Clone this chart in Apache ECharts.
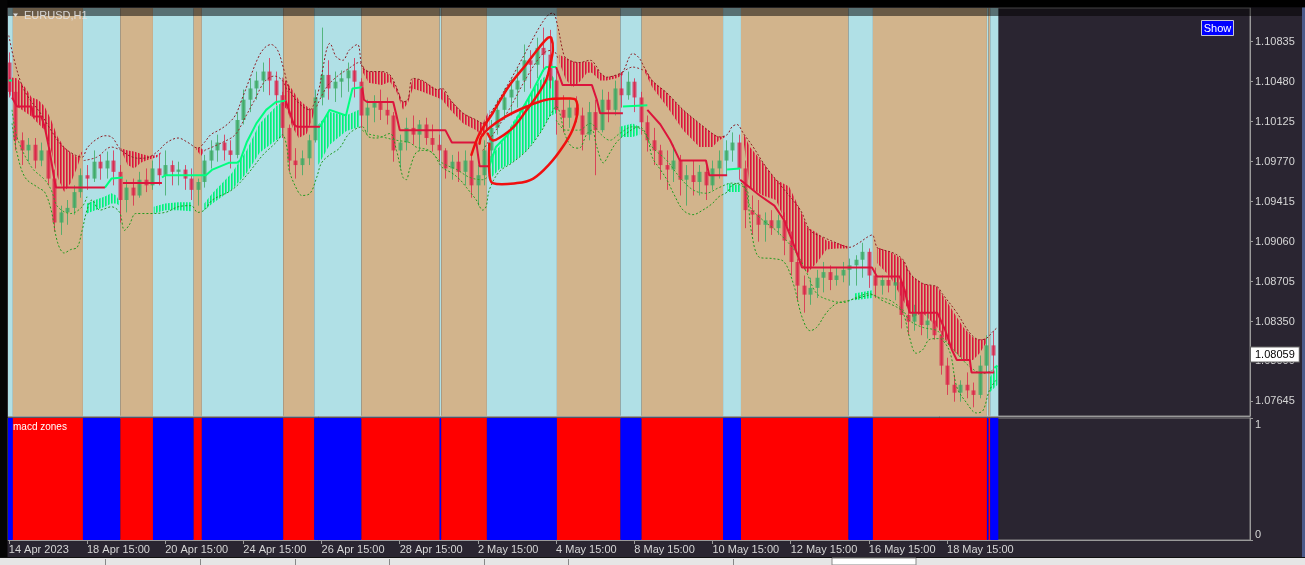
<!DOCTYPE html>
<html><head><meta charset="utf-8">
<script src="https://cdn.jsdelivr.net/npm/echarts@6/dist/echarts.min.js"></script>
<style>html,body{margin:0;padding:0;background:#000;overflow:hidden}#c{width:1305px;height:565px}</style>
</head><body><div id="c"></div>
<script>
// ---------------- DATA (EURUSD H1, bar index = hours from 14 Apr 2023 15:00) ----------------
const tickBars = [0,48,96,144,192,240,288,336,384,432,480,528,576];
const tickLabels = ['14 Apr 2023','18 Apr 15:00','20 Apr 15:00','24 Apr 15:00','26 Apr 15:00','28 Apr 15:00','2 May 15:00','4 May 15:00','8 May 15:00','10 May 15:00','12 May 15:00','16 May 15:00','18 May 15:00'];
const priceTicks = [1.10835,1.10480,1.10125,1.09770,1.09415,1.09060,1.08705,1.08350,1.08000,1.07645];
const subTicks = [0,1];
const lastPrice = 1.08059;
const barsPerCandle = 4;

const candleOpen = [
1.1065,1.1039,1.0996,1.0987,1.0992,1.0978,1.0987,1.0962,
1.0923,1.0932,1.0936,1.0950,1.0965,1.0962,1.0977,1.0971,
1.0978,1.0968,1.0943,1.0954,1.0947,1.0961,1.0956,1.0971,
1.0965,1.0974,1.0968,1.0970,1.0962,1.0952,1.0959,1.0978,
1.0987,1.0994,1.0987,1.0983,1.1014,1.1032,1.1042,1.1049,
1.1057,1.1049,1.1036,1.1007,1.0978,1.0974,1.0980,1.0996,
1.1034,1.1054,1.1042,1.1048,1.1051,1.1058,1.1048,1.1018,
1.1025,1.1030,1.1023,1.1018,1.0987,1.0994,1.1007,1.1001,
1.1010,1.0998,1.0992,1.0987,1.0971,1.0977,1.0968,1.0978,
1.0956,1.0965,1.0987,1.1007,1.1023,1.1034,1.1041,1.1049,
1.1067,1.1063,1.1078,1.1072,1.1049,1.1023,1.1016,1.1025,
1.1018,1.1001,1.1021,1.1005,1.1032,1.1023,1.1042,1.1036,
1.1048,1.1034,1.1012,1.0996,1.0987,1.0974,1.0970,1.0978,
1.0961,1.0965,1.0959,1.0968,1.0956,1.0971,1.0978,1.0987,
1.0994,1.0971,1.0934,1.0930,1.0921,1.0925,1.0918,1.0925,
1.0907,1.0888,1.0867,1.0859,1.0865,1.0874,1.0879,1.0872,
1.0876,1.0881,1.0885,1.0890,1.0897,1.0876,1.0867,1.0872,
1.0867,1.0870,1.0841,1.0835,1.0843,1.0832,1.0836,1.0823,
1.0796,1.0779,1.0772,1.0779,1.0774,1.0770,1.0796,1.0814];
const candleHigh = [
1.1074,1.1042,1.1003,1.0998,1.0998,1.0994,1.0989,1.0970,
1.0938,1.0943,1.0956,1.0971,1.0974,1.0987,1.0983,1.0986,
1.0987,1.0974,1.0961,1.0962,1.0968,1.0971,1.0978,1.0983,
1.0987,1.0978,1.0977,1.0974,1.0971,1.0962,1.0983,1.0996,
1.1001,1.1001,1.0996,1.1021,1.1041,1.1051,1.1057,1.1065,
1.1069,1.1057,1.1039,1.1010,1.0989,1.0987,1.1001,1.1041,
1.1096,1.1067,1.1057,1.1058,1.1065,1.1069,1.1051,1.1032,
1.1036,1.1041,1.1034,1.1021,1.1001,1.1016,1.1018,1.1014,
1.1016,1.1010,1.1001,1.0989,1.0983,1.0986,1.0987,1.0983,
1.0974,1.0996,1.1014,1.1032,1.1042,1.1051,1.1060,1.1081,
1.1076,1.1087,1.1096,1.1094,1.1058,1.1036,1.1032,1.1035,
1.1025,1.1030,1.1032,1.1041,1.1039,1.1049,1.1054,1.1057,
1.1051,1.1039,1.1018,1.1007,1.0992,1.0987,1.0992,1.0983,
1.0974,1.0978,1.0974,1.0977,1.0978,1.0987,1.0996,1.1003,
1.1001,1.0978,1.0947,1.0943,1.0932,1.0934,1.0930,1.0932,
1.0915,1.0891,1.0876,1.0874,1.0881,1.0888,1.0885,1.0883,
1.0888,1.0891,1.0894,1.0905,1.0900,1.0883,1.0876,1.0879,
1.0874,1.0872,1.0854,1.0850,1.0850,1.0843,1.0845,1.0827,
1.0803,1.0788,1.0783,1.0790,1.0781,1.0805,1.0823,1.0827];
const candleLow = [
1.1034,1.0987,1.0974,1.0977,1.0971,1.0973,1.0956,1.0915,
1.0912,1.0921,1.0930,1.0945,1.0952,1.0959,1.0961,1.0962,
1.0956,1.0923,1.0932,1.0938,1.0945,1.0950,1.0952,1.0956,
1.0947,1.0956,1.0956,1.0952,1.0943,1.0938,1.0954,1.0971,
1.0977,1.0978,1.0971,1.0980,1.1010,1.1021,1.1032,1.1039,
1.1036,1.1027,1.0998,1.0968,1.0962,1.0965,1.0974,1.0994,
1.1027,1.1032,1.1030,1.1034,1.1039,1.1034,1.1007,1.1003,
1.1012,1.1014,1.1010,1.0977,1.0971,1.0987,1.0992,1.0987,
1.0992,1.0986,1.0977,1.0962,1.0961,1.0959,1.0956,1.0945,
1.0938,1.0956,1.0980,1.1001,1.1014,1.1018,1.1025,1.1039,
1.1042,1.1051,1.1057,1.1042,1.1001,1.1003,1.1007,1.1012,
1.0987,1.0996,1.0965,1.1003,1.1012,1.1018,1.1025,1.1032,
1.1021,1.1001,1.0986,1.0974,1.0961,1.0952,1.0959,1.0947,
1.0938,1.0947,1.0947,1.0943,1.0952,1.0962,1.0965,1.0977,
1.0961,1.0918,1.0912,1.0906,1.0906,1.0912,1.0912,1.0894,
1.0876,1.0854,1.0843,1.0850,1.0856,1.0861,1.0863,1.0867,
1.0870,1.0867,1.0867,1.0874,1.0865,1.0856,1.0859,1.0861,
1.0854,1.0829,1.0823,1.0827,1.0823,1.0820,1.0819,1.0788,
1.0770,1.0764,1.0764,1.0767,1.0759,1.0767,1.0790,1.0790];
const candleClose = [
1.1039,1.0996,1.0987,1.0992,1.0978,1.0987,1.0962,1.0923,
1.0932,1.0936,1.0950,1.0965,1.0962,1.0977,1.0971,1.0978,
1.0968,1.0943,1.0954,1.0947,1.0961,1.0956,1.0971,1.0965,
1.0974,1.0968,1.0970,1.0962,1.0952,1.0959,1.0978,1.0987,
1.0994,1.0987,1.0983,1.1014,1.1032,1.1042,1.1049,1.1057,
1.1049,1.1036,1.1007,1.0978,1.0974,1.0980,1.0996,1.1034,
1.1054,1.1042,1.1048,1.1051,1.1058,1.1048,1.1018,1.1025,
1.1030,1.1023,1.1018,1.0987,1.0994,1.1007,1.1001,1.1010,
1.0998,1.0992,1.0987,1.0971,1.0977,1.0968,1.0978,1.0956,
1.0965,1.0987,1.1007,1.1023,1.1034,1.1041,1.1049,1.1067,
1.1063,1.1078,1.1072,1.1049,1.1023,1.1016,1.1025,1.1018,
1.1001,1.1021,1.1005,1.1032,1.1023,1.1042,1.1036,1.1048,
1.1034,1.1012,1.0996,1.0987,1.0974,1.0970,1.0978,1.0961,
1.0965,1.0959,1.0968,1.0956,1.0971,1.0978,1.0987,1.0994,
1.0971,1.0934,1.0930,1.0921,1.0925,1.0918,1.0925,1.0907,
1.0888,1.0867,1.0859,1.0865,1.0874,1.0879,1.0872,1.0876,
1.0881,1.0885,1.0890,1.0897,1.0876,1.0867,1.0872,1.0867,
1.0870,1.0841,1.0835,1.0843,1.0832,1.0836,1.0823,1.0796,
1.0779,1.0772,1.0779,1.0774,1.0770,1.0796,1.0814,1.0805];

// trend zones (bar start, bar end, 1 = up/blue, 0 = down/red)
const zoneStart = [0,3,46,69,89,114,119,169,188,217,265,266,294,337,376,389,439,450,516,531,601,602,603];
const zoneEnd   = [3,46,69,89,114,119,169,188,217,265,266,294,337,376,389,439,450,516,531,601,602,603,608];
const zoneUp    = [1,0,1,0,1,0,1,0,1,0,1,0,1,0,1,0,1,0,1,0,1,0,1];

// stepped trend line (red part / green part), [bar, price]
const redStep = [[2,1.1034],[5,1.1026],[14,1.1026],[15,1.1017],[20,1.1017],[22,1.1008],[25,1.0987],[28,1.0961],[29,1.0954],[59,1.0954],null,
[70,1.0958],[94,1.0958],null,
[170,1.1031],[175,1.1010],[177,1.1008],[191,1.1008],null,
[217,1.1043],[218,1.1032],[220,1.1030],[236,1.1030],[238,1.1018],[240,1.1005],[268,1.1005],[272,1.0994],[287,1.0994],[289,1.0973],[295,1.0973],null,
[336,1.1061],[340,1.1045],[358,1.1045],[361,1.1032],[363,1.1020],[377,1.1020],null,
[392,1.1023],[400,1.1010],[406,1.0996],[412,1.0978],[428,1.0978],[430,1.0965],[441,1.0965],null,
[449,1.0961],[461,1.0947],[470,1.0938],[476,1.0925],[482,1.0903],[487,1.0883],[530,1.0883],[533,1.0875],[547,1.0875],[550,1.0863],[553,1.0843],[570,1.0843],[575,1.0827],[579,1.0810],[582,1.0801],[590,1.0801],[591,1.0790],[605,1.0790]];
const greenStep = [[0,1.1049],[2,1.1049],null,
[59,1.0954],[63,1.0962],[70,1.0963],null,
[94,1.0963],[96,1.0965],[121,1.0965],[125,1.0970],[135,1.0976],[140,1.0976],[142,1.0978],[146,1.0994],[152,1.1011],[158,1.1023],[164,1.1030],[170,1.1031],null,
[191,1.1008],[197,1.1023],[207,1.1018],[211,1.1042],[217,1.1043],null,
[295,1.0973],[299,1.0990],[307,1.1002],[315,1.1023],[322,1.1041],[328,1.1058],[330,1.1061],[336,1.1061],null,
[377,1.1026],[392,1.1027],null,
[441,1.0970],[449,1.0971],null,
[605,1.0794],[607,1.0796]];

// dotted envelope lines, [bar, price]
const upperBand = [[0,1.1089],[3,1.1069],[8,1.1045],[13,1.1032],[19,1.1021],[25,1.1007],[31,1.0994],[37,1.0986],[45,1.0981],[48,1.0989],[53,1.0996],[59,1.1000],[63,1.0999],[68,1.0989],[73,1.0983],[80,1.0980],[86,1.0981],[92,1.0987],[97,1.0994],[104,1.0998],[110,1.0994],[116,1.0989],[120,1.0994],[124,1.1001],[129,1.1005],[134,1.1010],[139,1.1018],[143,1.1032],[148,1.1051],[153,1.1069],[157,1.1078],[161,1.1081],[165,1.1076],[169,1.1058],[172,1.1042],[178,1.1029],[185,1.1023],[187,1.1027],[190,1.1039],[193,1.1061],[195,1.1076],[197,1.1082],[201,1.1070],[205,1.1067],[209,1.1076],[214,1.1081],[217,1.1061],[221,1.1057],[229,1.1057],[234,1.1054],[238,1.1043],[242,1.1030],[245,1.1032],[248,1.1051],[254,1.1049],[263,1.1041],[266,1.1042],[271,1.1032],[279,1.1020],[287,1.1014],[291,1.1011],[297,1.1023],[307,1.1047],[318,1.1076],[326,1.1097],[331,1.1107],[334,1.1109],[337,1.1097],[340,1.1076],[342,1.1069],[350,1.1065],[357,1.1067],[361,1.1061],[363,1.1056],[367,1.1052],[373,1.1054],[377,1.1057],[381,1.1070],[383,1.1073],[387,1.1069],[390,1.1061],[395,1.1049],[404,1.1038],[414,1.1023],[424,1.1011],[432,1.1002],[436,1.0999],[441,1.1001],[444,1.1008],[447,1.1010],[451,1.1002],[457,1.0990],[465,1.0972],[475,1.0954],[486,1.0934],[492,1.0916],[500,1.0910],[508,1.0905],[516,1.0901],[522,1.0905],[527,1.0910],[530,1.0912],[533,1.0901],[536,1.0899],[543,1.0896],[549,1.0890],[553,1.0878],[561,1.0869],[570,1.0866],[573,1.0860],[582,1.0843],[590,1.0825],[596,1.0819],[600,1.0820],[604,1.0826],[607,1.0830]];
const innerUpper = [[46,1.0978],[54,1.0981],[63,1.0990],[69,1.0987],null,
[120,1.0987],[131,1.0994],[139,1.1001],[145,1.1016],[151,1.1032],[157,1.1048],[163,1.1053],[168,1.1049],[171,1.1039],null,
[189,1.1026],[195,1.1043],[201,1.1052],[209,1.1060],[215,1.1065],[218,1.1060],null,
[291,1.0987],[295,1.0996],[307,1.1023],[318,1.1052],[328,1.1073],[334,1.1076],[337,1.1069],null,
[375,1.1054],[383,1.1061],[390,1.1058]];
const lowerBand = [[2,1.1011],[5,1.0985],[10,1.0963],[18,1.0954],[22,1.0950],[26,1.0934],[30,1.0905],[34,1.0896],[38,1.0899],[42,1.0901],[45,1.0916],[48,1.0934],[51,1.0943],[56,1.0934],[63,1.0937],[68,1.0932],[71,1.0916],[74,1.0921],[78,1.0931],[86,1.0931],[96,1.0932],[104,1.0937],[112,1.0938],[116,1.0932],[120,1.0934],[125,1.0943],[137,1.0952],[146,1.0965],[156,1.0983],[164,1.0994],[168,1.1001],[171,1.0987],[172,1.0970],[177,1.0952],[180,1.0947],[185,1.0949],[189,1.0963],[192,1.0976],[197,1.0983],[203,1.0989],[209,1.1002],[217,1.1008],[221,1.0999],[226,1.0998],[234,1.1002],[238,1.0987],[242,1.0963],[244,1.0961],[246,1.0970],[250,1.0985],[254,1.0987],[260,1.0985],[266,1.0972],[272,1.0967],[277,1.0961],[281,1.0954],[287,1.0943],[291,1.0934],[293,1.0937],[295,1.0952],[301,1.0968],[309,1.0976],[318,1.0987],[326,1.1002],[332,1.1017],[336,1.1026],[342,1.0999],[346,1.0990],[350,1.0989],[355,1.1002],[358,1.1005],[361,1.0990],[365,1.0976],[369,1.0985],[373,1.0994],[379,1.1002],[387,1.1008],[392,1.0999],[395,1.0981],[400,1.0970],[404,1.0961],[408,1.0949],[414,1.0934],[420,1.0930],[426,1.0934],[432,1.0940],[436,1.0946],[441,1.0950],[444,1.0956],[449,1.0958],[453,1.0949],[456,1.0914],[461,1.0892],[469,1.0891],[476,1.0888],[482,1.0867],[487,1.0839],[492,1.0827],[496,1.0830],[502,1.0843],[508,1.0851],[516,1.0854],[524,1.0857],[530,1.0859],[536,1.0854],[545,1.0848],[549,1.0843],[553,1.0821],[557,1.0807],[561,1.0810],[565,1.0819],[570,1.0820],[573,1.0819],[578,1.0807],[582,1.0777],[588,1.0763],[594,1.0754],[598,1.0756],[602,1.0774],[606,1.0783]];
const innerLower = [[2,1.1023],[5,1.0999],[14,1.0972],[22,1.0961],[26,1.0952],[30,1.0937],[38,1.0931],[45,1.0937],[48,1.0946],null,
[217,1.1005],[220,1.1002],[229,1.0999],[238,1.0996],[246,1.0994],[250,1.0990],[258,1.0987],[266,1.0976],[275,1.0970],[283,1.0963],[291,1.0961],[295,1.0965],null,
[336,1.1014],[342,1.1005],[350,1.1005],[357,1.1011],[363,1.1002],[369,1.0996],[375,1.1002],[383,1.1008],[389,1.1005],[395,1.0990],[404,1.0978],[412,1.0963],[420,1.0952],[428,1.0949],[436,1.0954],[444,1.0958],[453,1.0952],[455,1.0937],[463,1.0925],[471,1.0916],[481,1.0901],[486,1.0890],[490,1.0878],[496,1.0860],[504,1.0854],[512,1.0852],[521,1.0857],[528,1.0860],[533,1.0857],[541,1.0854],[549,1.0845],[553,1.0836],[561,1.0830],[570,1.0827],[573,1.0821],[582,1.0807],[590,1.0795],[598,1.0789],[604,1.0792]];

// histogram bands between two averages: [bar, upper, lower]
const redHatch = [
 [[0,1.1052,1.1038],[5,1.1051,1.1026],[10,1.1043,1.1021],[14,1.1034,1.1017],[18,1.1032,1.1011],[22,1.1026,1.1005],[26,1.1014,1.0987],[30,1.0999,1.0963],[34,1.0990,1.0950],[38,1.0985,1.0958],[42,1.0981,1.0972],[45,1.0986,1.0985]],
 [[69,1.0989,1.0987],[73,1.0987,1.0974],[77,1.0986,1.0971],[81,1.0984,1.0976],[86,1.0982,1.0979],[91,1.0983,1.0981],[94,1.0986,1.0985]],
 [[115,1.0990,1.0988],[118,1.0989,1.0982],[120,1.0987,1.0986]],
 [[168,1.1052,1.1027],[171,1.1047,1.1023],[174,1.1041,1.1008],[178,1.1032,1.0998],[183,1.1026,1.1002],[186,1.1023,1.1014],[188,1.1026,1.1023]],
 [[217,1.1061,1.1057],[221,1.1057,1.1047],[229,1.1057,1.1045],[234,1.1054,1.1048],[238,1.1043,1.1039],[242,1.1030,1.1023],[245,1.1032,1.1029],[248,1.1051,1.1042],[254,1.1049,1.1039],[263,1.1041,1.1034],[266,1.1042,1.1032],[271,1.1032,1.1023],[279,1.1020,1.1011],[287,1.1014,1.1005],[291,1.1011,1.0999],[295,1.1023,1.1008]],
 [[338,1.1072,1.1065],[342,1.1069,1.1050],[346,1.1066,1.1043],[350,1.1065,1.1047],[355,1.1066,1.1056],[358,1.1065,1.1056],[363,1.1056,1.1049],[367,1.1052,1.1049],[373,1.1054,1.1051],[377,1.1057,1.1054]],
 [[390,1.1061,1.1058],[395,1.1049,1.1043],[404,1.1038,1.1026],[414,1.1023,1.1005],[424,1.1011,1.0990],[432,1.1002,1.0990],[436,1.0999,1.0996],[440,1.1000,1.0999]],
 [[451,1.1002,1.0996],[455,1.0990,1.0954],[463,1.0976,1.0947],[471,1.0961,1.0943],[479,1.0955,1.0916],[486,1.0934,1.0887],[490,1.0919,1.0878],[496,1.0914,1.0887],[502,1.0907,1.0899],[508,1.0905,1.0900],[515,1.0902,1.0900]],
 [[533,1.0901,1.0887],[541,1.0897,1.0875],[549,1.0890,1.0854],[555,1.0875,1.0839],[561,1.0869,1.0843],[570,1.0866,1.0830],[578,1.0848,1.0812],[586,1.0830,1.0801],[592,1.0821,1.0801],[596,1.0819,1.0807],[600,1.0820,1.0816]]
];
const greenHatch = [
 [[48,1.0940,1.0931],[53,1.0943,1.0934],[59,1.0946,1.0937],[63,1.0949,1.0940],[66,1.0947,1.0940],[68,1.0941,1.0938]],
 [[89,1.0937,1.0931],[96,1.0940,1.0934],[104,1.0941,1.0934],[112,1.0941,1.0933]],
 [[120,1.0940,1.0934],[125,1.0949,1.0940],[137,1.0967,1.0952],[146,1.0987,1.0967],[154,1.1011,1.0985],[164,1.1026,1.0996],[168,1.1030,1.0999]],
 [[190,1.1010,1.0974],[197,1.1021,1.0992],[207,1.1018,1.1004],[215,1.1023,1.1008]],
 [[295,1.0981,1.0961],[301,1.0990,1.0970],[309,1.1011,1.0976],[318,1.1032,1.0987],[326,1.1049,1.1002],[332,1.1056,1.1017],[336,1.1049,1.1020]],
 [[375,1.1008,1.0999],[383,1.1011,1.0999],[387,1.1008,1.1001]],
 [[441,1.0958,1.0950],[449,1.0956,1.0950]],
 [[519,1.0860,1.0854],[530,1.0863,1.0856]],
 [[602,1.0785,1.0772],[607,1.0796,1.0779]]
];

// hand-drawn annotation loops on the chart, [bar, price]
const annotationLoops = [
 [[284,1.0983],[289,1.1002],[297,1.1020],[307,1.1044],[318,1.1064],[326,1.1079],[331,1.1087],[333,1.1087],[334,1.1076],[332,1.1061],[330,1.1050],[324,1.1035],[318,1.1023],[310,1.1008],[301,1.0998],[297,1.0996],[294,1.1002]],
 [[295,1.0993],[295,1.0967],[297,1.0958],[312,1.0958],[322,1.0962],[332,1.0975],[340,1.0990],[346,1.1005],[349,1.1020],[348,1.1032],[342,1.1033],[330,1.1032],[318,1.1026],[305,1.1017],[295,1.1007],[290,1.0999],[289,1.0993]]
];

// ---------------- CHART ----------------
const FONT = 'Liberation Sans';
const AXC = '#9a9a9a';
const TXT = '#d6d6d6';
const chart = echarts.init(document.getElementById('c'), null, {renderer:'canvas', width:1305, height:565});

function makePattern(color, alpha2){
  const cv = document.createElement('canvas'); cv.width = 3; cv.height = 2;
  const ctx = cv.getContext('2d');
  ctx.fillStyle = color; ctx.fillRect(0,0,1,2);
  ctx.globalAlpha = alpha2; ctx.fillRect(1,0,1,2);
  return {image: cv, repeat: 'repeat'};
}
const redPat = makePattern('#dc143c', 0.6);
const greenPat = makePattern('#00f27a', 0.65);

function gaps(arr){ return arr.map(p => p ? p : [null, null]); }
function lineSeries(data, color, width, type, smooth, z){
  return {type:'line', xAxisIndex:0, yAxisIndex:0, data: gaps(data), showSymbol:false, symbol:'none',
    smooth: smooth, connectNulls:false, lineStyle:{color:color, width:width, type:type}, z:z, silent:true, animation:false};
}
function hatchSeries(segs, pat){
  return {type:'custom', xAxisIndex:0, yAxisIndex:0, clip:true, z:2, silent:true, animation:false,
    data: segs.map(s => [s[0][0], s[0][1]]),
    renderItem: function(params, api){
      const seg = segs[params.dataIndex];
      const top = seg.map(p => api.coord([p[0], p[1]]));
      const bot = seg.map(p => api.coord([p[0], p[2]])).reverse();
      return {type:'polygon', shape:{points: top.concat(bot)}, style:{fill: pat, stroke: null}};
    }};
}
function zoneSeries(gi, colors){
  return {type:'custom', xAxisIndex:gi, yAxisIndex:gi, clip:true, z:1, silent:true, animation:false,
    data: zoneStart.map((s,i) => [s, zoneEnd[i], zoneUp[i]]),
    encode:{x:[0,1]},
    renderItem: function(params, api){
      const cs = params.coordSys;
      const x1 = api.coord([api.value(0)-0.5, gi === 0 ? 1.09 : 0])[0];
      const x2 = api.coord([api.value(1)-0.5, gi === 0 ? 1.09 : 0])[0];
      return {type:'rect', shape:{x:x1, y:cs.y, width:x2-x1, height:cs.height},
        style:{fill: api.value(2) ? colors[1] : colors[0]}};
    }};
}

const candleData = candleOpen.map((o,i) => [i*barsPerCandle, o, candleClose[i], candleLow[i], candleHigh[i]]);

const option = {
  animation:false,
  backgroundColor:'#2a2531',
  grid:[
    {left:8, top:8, width:1242, height:408, show:true, borderColor:'#8a8a8a', borderWidth:1, backgroundColor:'transparent', containLabel:false, outerBoundsMode:'none'},
    {left:8, top:418, width:1242, height:122, show:true, borderColor:'#8a8a8a', borderWidth:1, backgroundColor:'transparent', containLabel:false, outerBoundsMode:'none'}
  ],
  xAxis:[
    {gridIndex:0, type:'value', min:-0.5, max:762, axisLine:{show:true, onZero:false, lineStyle:{color:AXC}}, axisTick:{show:false}, axisLabel:{show:false}, splitLine:{show:false}},
    {gridIndex:1, type:'value', min:-0.5, max:762, axisLine:{show:true, onZero:false, lineStyle:{color:AXC}},
      axisTick:{show:true, customValues: tickBars, length:4, lineStyle:{color:AXC}},
      axisLabel:{show:true, customValues: tickBars, formatter: v => tickLabels[tickBars.indexOf(v)], align:'left', color:TXT, fontFamily:FONT, fontSize:11, margin:4, hideOverlap:false},
      splitLine:{show:false}}
  ],
  yAxis:[
    {gridIndex:0, type:'value', position:'right', min:1.07513, max:1.11134, scale:true,
      axisLine:{show:true, onZero:false, lineStyle:{color:AXC}},
      axisTick:{show:true, customValues: priceTicks, length:3, lineStyle:{color:AXC}},
      axisLabel:{show:true, customValues: priceTicks, formatter: v => v.toFixed(5), color:TXT, fontFamily:FONT, fontSize:11, margin:5},
      splitLine:{show:false}},
    {gridIndex:1, type:'value', position:'right', min:0, max:1,
      axisLine:{show:true, onZero:false, lineStyle:{color:AXC}},
      axisTick:{show:true, customValues: subTicks, length:3, lineStyle:{color:AXC}},
      axisLabel:{show:true, customValues: subTicks, formatter: v => v >= 1 ? '{t|1}' : '{b|0}', color:TXT, fontFamily:FONT, fontSize:11, margin:5,
        rich:{t:{padding:[13,0,0,0], color:TXT, fontFamily:FONT, fontSize:11}, b:{padding:[0,0,11,0], color:TXT, fontFamily:FONT, fontSize:11}}},
      splitLine:{show:false}}
  ],
  series:[
    zoneSeries(0, ['#d2b48c', '#b0e0e6']),
    zoneSeries(1, ['#ff0000', '#0000ff']),
    hatchSeries(redHatch, redPat),
    hatchSeries(greenHatch, greenPat),
    {type:'custom', xAxisIndex:0, yAxisIndex:0, clip:true, z:3, silent:true, animation:false,
      data: candleData, encode:{x:0, y:[1,2,3,4]},
      renderItem: function(params, api){
        const x = api.value(0), o = api.value(1), c = api.value(2), l = api.value(3), h = api.value(4);
        const pH = api.coord([x,h]), pL = api.coord([x,l]), pO = api.coord([x,o]), pC = api.coord([x,c]);
        const up = c >= o;
        const col = up ? 'rgba(60,170,100,0.8)' : 'rgba(220,30,70,0.75)';
        const xc = Math.round(pH[0]);
        return {type:'group', children:[
          {type:'line', shape:{x1:xc+0.5, y1:pH[1], x2:xc+0.5, y2:pL[1]}, style:{stroke:col, lineWidth:1}},
          {type:'rect', shape:{x:xc-1.5, y:Math.min(pO[1],pC[1]), width:4, height:Math.max(1, Math.abs(pO[1]-pC[1]))}, style:{fill:col}}
        ]};
      }},
    lineSeries(lowerBand, '#1f9a1f', 1, [2,2], 0.35, 4),
    lineSeries(innerLower, '#2aa52a', 1, [2,2], 0.35, 4),
    lineSeries(upperBand, '#8e1c22', 1, [2,2], 0.35, 4),
    lineSeries(innerUpper, '#9a2a2e', 1, [2,2], 0.35, 4),
    lineSeries(greenStep, '#00ff7f', 2, 'solid', false, 5),
    lineSeries(redStep, '#dc143c', 2, 'solid', false, 6),
    {type:'custom', xAxisIndex:0, yAxisIndex:0, clip:true, z:8, silent:true, animation:false,
      data: annotationLoops.map(s => [s[0][0], s[0][1]]),
      renderItem: function(params, api){
        const loop = annotationLoops[params.dataIndex];
        return {type:'polyline', shape:{points: loop.map(p => api.coord(p)), smooth:0.35},
          style:{stroke:'#f01010', lineWidth:2.5, fill:null, lineCap:'round', lineJoin:'round'}};
      }}
  ],
  graphic:[
    {type:'rect', z:100, silent:true, shape:{x:0, y:0, width:1305, height:7.5}, style:{fill:'#000'}},
    {type:'rect', z:100, silent:true, shape:{x:0, y:0, width:7.5, height:558}, style:{fill:'#050505'}},
    {type:'rect', z:100, silent:true, shape:{x:8, y:7.5, width:1295, height:8.5}, style:{fill:'rgba(0,0,0,0.5)'}},
    {type:'polygon', z:101, silent:true, shape:{points:[[13,13.5],[18,13.5],[15.5,17]]}, style:{fill:'#d8d8d8'}},
    {type:'text', z:101, silent:true, x:24, y:16, style:{text:'EURUSD,H1', fill:'rgba(225,225,225,0.9)', font:'11px "Liberation Sans"', verticalAlign:'middle'}},
    {type:'text', z:101, silent:true, x:13, y:427, style:{text:'macd zones', fill:'#ffffff', font:'10px "Liberation Sans"', verticalAlign:'middle'}},
    {type:'rect', z:101, silent:true, shape:{x:1201.5, y:20.5, width:32, height:15}, style:{fill:'#0000ff', stroke:'#c8c8d0', lineWidth:1}},
    {type:'text', z:102, silent:true, x:1217.5, y:28.5, style:{text:'Show', fill:'#ffffff', font:'11px "Liberation Sans"', align:'center', verticalAlign:'middle'}},
    {type:'rect', z:100, silent:true, shape:{x:1302, y:7.5, width:3, height:551}, style:{fill:'#4a5a8a'}},
    {type:'rect', z:100, silent:true, shape:{x:0, y:557, width:1305, height:1}, style:{fill:'#111'}},
    {type:'rect', z:100, silent:true, shape:{x:0, y:558, width:1305, height:7}, style:{fill:'#e6e6e6'}},
    {type:'rect', z:101, silent:true, shape:{x:832, y:558, width:84, height:7}, style:{fill:'#ffffff', stroke:'#888', lineWidth:1}},
    {type:'rect', z:101, silent:true, shape:{x:105, y:559, width:1, height:6}, style:{fill:'#888'}},
    {type:'rect', z:101, silent:true, shape:{x:200, y:559, width:1, height:6}, style:{fill:'#888'}},
    {type:'rect', z:101, silent:true, shape:{x:295, y:559, width:1, height:6}, style:{fill:'#888'}},
    {type:'rect', z:101, silent:true, shape:{x:389, y:559, width:1, height:6}, style:{fill:'#888'}},
    {type:'rect', z:101, silent:true, shape:{x:484, y:559, width:1, height:6}, style:{fill:'#888'}},
    {type:'rect', z:101, silent:true, shape:{x:568, y:559, width:1, height:6}, style:{fill:'#888'}},
    {type:'rect', z:101, silent:true, shape:{x:733, y:559, width:1, height:6}, style:{fill:'#888'}}
  ]
};
chart.setOption(option);

// last-price tag on the price axis, placed through the axis scale
const tagY = chart.convertToPixel({yAxisIndex:0}, lastPrice);
const tagX = chart.convertToPixel({xAxisIndex:0}, 762) + 1;
chart.setOption({graphic: option.graphic.concat([
  {type:'text', z:110, silent:true, x:tagX, y:tagY, style:{text: lastPrice.toFixed(5), fill:'#000', font:'11px "Liberation Sans"', verticalAlign:'middle',
    backgroundColor:'#ffffff', borderColor:'#666', borderWidth:1, padding:[2,4,1,4]}}
])});
</script>
</body></html>
